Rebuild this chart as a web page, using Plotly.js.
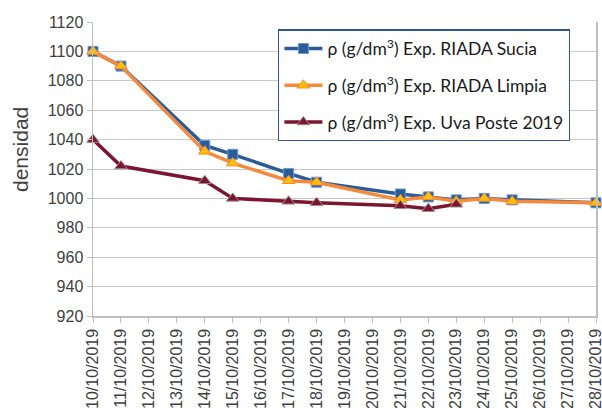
<!DOCTYPE html>
<html><head><meta charset="utf-8">
<script src="https://cdn.plot.ly/plotly-3.0.1.min.js"></script>
<style>html,body{margin:0;padding:0;background:#fff}#chart{width:602px;height:408px}</style>
</head><body><div id="chart"></div>
<script>
var categories = ["10/10/2019","11/10/2019","12/10/2019","13/10/2019","14/10/2019","15/10/2019","16/10/2019","17/10/2019","18/10/2019","19/10/2019","20/10/2019","21/10/2019","22/10/2019","23/10/2019","24/10/2019","25/10/2019","26/10/2019","27/10/2019","28/10/2019"];
var riadaDates = ["10/10/2019","11/10/2019","14/10/2019","15/10/2019","17/10/2019","18/10/2019","21/10/2019","22/10/2019","23/10/2019","24/10/2019","25/10/2019","28/10/2019"];
var sucia = [1100, 1090, 1036, 1030, 1017, 1011, 1003, 1001, 999, 1000, 999, 997];
var limpia = [1100, 1090, 1032, 1024, 1012, 1011, 999, 1001, 998, 1000, 998, 997];
var uvaDates = ["10/10/2019","11/10/2019","14/10/2019","15/10/2019","17/10/2019","18/10/2019","21/10/2019","22/10/2019","23/10/2019"];
var uva = [1040, 1022, 1012, 1000, 998, 997, 995, 993, 996];
var seriesNames = ["ρ (g/dm<sup>3</sup>) Exp. RIADA Sucia","ρ (g/dm<sup>3</sup>) Exp. RIADA Limpia","ρ (g/dm<sup>3</sup>) Exp. Uva Poste 2019"];
var yTicks = [920,940,960,980,1000,1020,1040,1060,1080,1100,1120];
var yTitle = "densidad";

var traces = [
  {x: riadaDates, y: sucia, name: seriesNames[0], legendgroup:"a", mode:"lines+markers", cliponaxis:false,
   line:{color:"#2A5C9A", width:3.5}, marker:{symbol:"square", size:10, color:"#2A5C9A", line:{color:"#6C98CF", width:1}}},
  {x: riadaDates, y: limpia, name: seriesNames[1], legendgroup:"b", mode:"lines+markers", cliponaxis:false,
   line:{color:"#F58A3C", width:3.5}, marker:{symbol:"triangle-up", size:11, color:"#FFC000", line:{color:"#F58A3C", width:1}}},
  {x: uvaDates, y: uva, name: seriesNames[2], legendgroup:"c", mode:"lines+markers", cliponaxis:false,
   line:{color:"#7A1630", width:3.5}, marker:{symbol:"triangle-up", size:11, color:"#7A1630", line:{color:"#A08A8E", width:1}}}
];

var layout = {
  width:602, height:408,
  margin:{l:93, r:6, t:22, b:92},
  paper_bgcolor:"#fff", plot_bgcolor:"#fff",
  font:{family:"Liberation Sans, Arial, sans-serif", color:"#404040", size:16},
  showlegend:true,
  legend:{x:0.368, y:0.975, xanchor:"left", yanchor:"top", bgcolor:"#fff",
    bordercolor:"#2F5597", borderwidth:1.3, font:{family:"Lato, Carlito, sans-serif", size:17.5, color:"#1a1a1a"},
    tracegroupgap:11, traceorder:"grouped", itemwidth:38},
  xaxis:{type:"category", categoryorder:"array", categoryarray:categories, range:[0,18],
    tickmode:"array", tickvals:categories, ticktext:categories, tickangle:-90,
    showgrid:false, showline:true, linecolor:"#BFBFBF", linewidth:1.5,
    ticks:"outside", ticklen:5, tickcolor:"#BFBFBF", tickfont:{size:16, color:"#404040"}, zeroline:false},
  yaxis:{range:[920,1120], tickmode:"array", tickvals:yTicks, showgrid:true, gridcolor:"#C8C8C8", gridwidth:1,
    showline:true, linecolor:"#BFBFBF", linewidth:1.5, mirror:true,
    ticks:"outside", ticklen:5, tickcolor:"#BFBFBF", tickfont:{size:16, color:"#404040"}, zeroline:false},
  annotations:[{text:yTitle, textangle:-90, xref:"paper", yref:"paper",
    x:(20-93)/503, y:(316-150)/294, xanchor:"center", yanchor:"middle", showarrow:false,
    font:{size:21, color:"#404040", family:"Liberation Sans, Arial, sans-serif"}}]
};
Plotly.newPlot("chart", traces, layout, {displayModeBar:false, staticPlot:true});
</script></body></html>
